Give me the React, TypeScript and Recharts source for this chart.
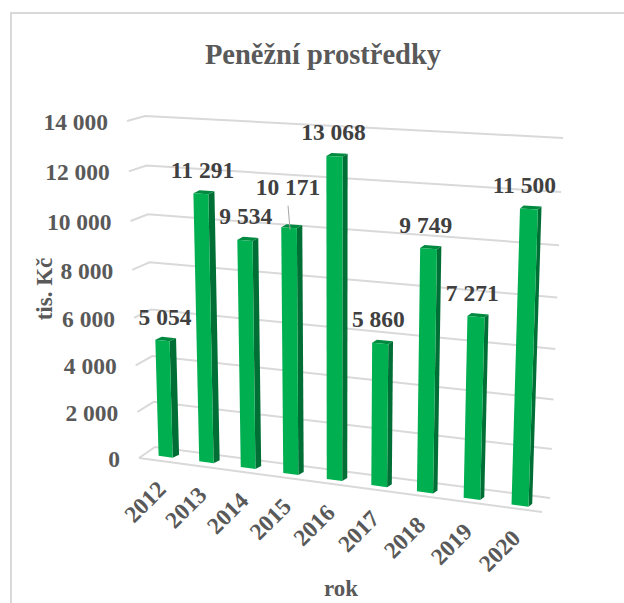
import React from 'react';
import { BarChart, Bar, XAxis, YAxis, CartesianGrid, LabelList } from 'recharts';

const years = ['2012', '2013', '2014', '2015', '2016', '2017', '2018', '2019', '2020'];
const cash = [5054, 11291, 9534, 10171, 13068, 5860, 9749, 7271, 11500];
const yTicks = [0, 2000, 4000, 6000, 8000, 10000, 12000, 14000];
const rows = years.map((rok, i) => ({ rok, cash: cash[i] }));

const WIDTH = 624, HEIGHT = 603;
const PL = 100, PT = 100, PW = 400, PH = 350;
type P = [number, number];

function homography(q: P[]) {
  const [[x0, y0], [x1, y1], [x2, y2], [x3, y3]] = q; // TL, TR, BR, BL
  const dx1 = x1 - x2, dx2 = x3 - x2, sx = x0 - x1 + x2 - x3;
  const dy1 = y1 - y2, dy2 = y3 - y2, sy = y0 - y1 + y2 - y3;
  const det = dx1 * dy2 - dx2 * dy1;
  const g = (sx * dy2 - dx2 * sy) / det;
  const h = (dx1 * sy - sx * dy1) / det;
  const a = x1 - x0 + g * x1, b = x3 - x0 + h * x3, c = x0;
  const d = y1 - y0 + g * y1, e = y3 - y0 + h * y3, f = y0;
  return (px: number, py: number): P => {
    const u = (px - PL) / PW, v = (py - PT) / PH;
    const w = g * u + h * v + 1;
    return [(a * u + b * v + c) / w, (d * u + e * v + f) / w];
  };
}

const wall = homography([[145, 116], [563, 138], [550, 498], [155, 447]]);
const front = homography([[136, 123], [557.5, 142], [545, 509], [146, 454]]);
const floorFront: [P, P] = [[139, 458], [542, 512]];

const pts = (a: P[]) => a.map((p) => p.join(',')).join(' ');

const GridLine = (p: any) => {
  const y = p.y1;
  const a = wall(PL, y), b = wall(PL + PW, y);
  const t = (y - PT) / PH;
  const tick: P = [a[0] - 18 + 2 * t, a[1] + 5 + 6 * t];
  return (
    <g>
      <polyline points={pts([tick, a, b])} fill="none" stroke="#D9D9D9" strokeWidth={2} />
      {Math.abs(t - 1) < 0.001 && (
        <line x1={floorFront[0][0]} y1={floorFront[0][1]} x2={floorFront[1][0]} y2={floorFront[1][1]} stroke="#D9D9D9" strokeWidth={2} />
      )}
    </g>
  );
};

const Bar3D = (p: any) => {
  const { x, y, width, height } = p;
  const fTL = front(x, y), fTR = front(x + width, y);
  const fBR = front(x + width, y + height), fBL = front(x, y + height);
  const u = (x - PL) / PW;
  const dx = 6.5 - 3 * u, dy = -3;
  const off = (q: P): P => [q[0] + dx, q[1] + dy];
  return (
    <g>
      <polygon points={pts([fTL, off(fTL), off(fTR), fTR])} fill="#008A3F" />
      <polygon points={pts([fTR, off(fTR), off(fBR), fBR])} fill="#006F35" />
      <polygon points={pts([fTL, fTR, fBR, fBL])} fill="#00B050" />
    </g>
  );
};

const fmt = (v: number) => {
  const s = String(v);
  return s.length > 3 ? s.slice(0, -3) + ' ' + s.slice(-3) : s;
};

const LEADER_YEAR = 3;

const BarValue = (p: any) => {
  const { x, y, width, value, index } = p;
  const t = front(x + width / 2, y);
  const u = (x + width / 2 - PL) / PW;
  const lead = index === LEADER_YEAR;
  const lx = t[0] + (lead ? -1 : 3 - 8 * u), ly = t[1] + (lead ? -41 : -24);
  return (
    <g>
      {lead && <line x1={t[0] - 1} y1={t[1] - 22} x2={t[0] + 1} y2={t[1] + 2} stroke="#A6A6A6" strokeWidth={1} />}
      <text x={lx} y={ly} textAnchor="middle" dominantBaseline="central" fontFamily="Liberation Serif" fontWeight="bold" fontSize={23.5} fill="#404040">
        {fmt(value)}
      </text>
    </g>
  );
};

const XTick = (p: any) => {
  const b = front(p.x, PT + PH);
  const cx = b[0] - 21, cy = b[1] + 45;
  return (
    <text x={cx} y={cy} textAnchor="middle" dominantBaseline="central" transform={`rotate(-45 ${cx} ${cy})`} fontFamily="Liberation Serif" fontWeight="bold" fontSize={23.5} fill="#595959">
      {p.payload.value}
    </text>
  );
};

const YTick = (p: any) => {
  const a = wall(PL, p.y);
  const t = (p.y - PT) / PH;
  return (
    <text x={a[0] - 37 + 2 * t} y={a[1] + 6 + 6 * t} textAnchor="end" dominantBaseline="central" fontFamily="Liberation Serif" fontWeight="bold" fontSize={23.5} fill="#595959">
      {fmt(p.payload.value)}
    </text>
  );
};

export default function App() {
  return (
    <div style={{ position: 'absolute', left: 0, top: 0, width: WIDTH, height: HEIGHT, overflow: 'hidden', background: '#fff' }}>
      <div style={{ position: 'absolute', left: 10, top: 12, width: 640, height: 640, border: '2px solid #D9D9D9' }} />
      <div style={{ position: 'absolute', left: 0, top: 0 }}>
        <BarChart width={WIDTH} height={HEIGHT} data={rows} barSize={15.5}
          margin={{ top: PT, left: PL - 40, right: WIDTH - PL - PW, bottom: 123 }}>
          <CartesianGrid vertical={false} horizontal={(p: any) => <GridLine key={p.key ?? p.y1} {...p} />} />
          <XAxis dataKey="rok" height={30} axisLine={false} tickLine={false} interval={0} tick={<XTick />} />
          <YAxis width={40} domain={[0, 14000]} ticks={yTicks} axisLine={false} tickLine={false} tick={<YTick />} />
          <Bar dataKey="cash" isAnimationActive={false} shape={<Bar3D />}>
            <LabelList dataKey="cash" content={<BarValue />} />
          </Bar>
          <text x={323} y={54} textAnchor="middle" dominantBaseline="central" fontFamily="Liberation Serif" fontWeight="bold" fontSize={28.5} fill="#595959">Peněžní prostředky</text>
          <text x={341} y={588} textAnchor="middle" dominantBaseline="central" fontFamily="Liberation Serif" fontWeight="bold" fontSize={23} fill="#595959">rok</text>
          <text x={44} y={289} textAnchor="middle" dominantBaseline="central" transform="rotate(-90 44 289)" fontFamily="Liberation Serif" fontWeight="bold" fontSize={23} fill="#595959">tis. Kč</text>
        </BarChart>
      </div>
    </div>
  );
}
